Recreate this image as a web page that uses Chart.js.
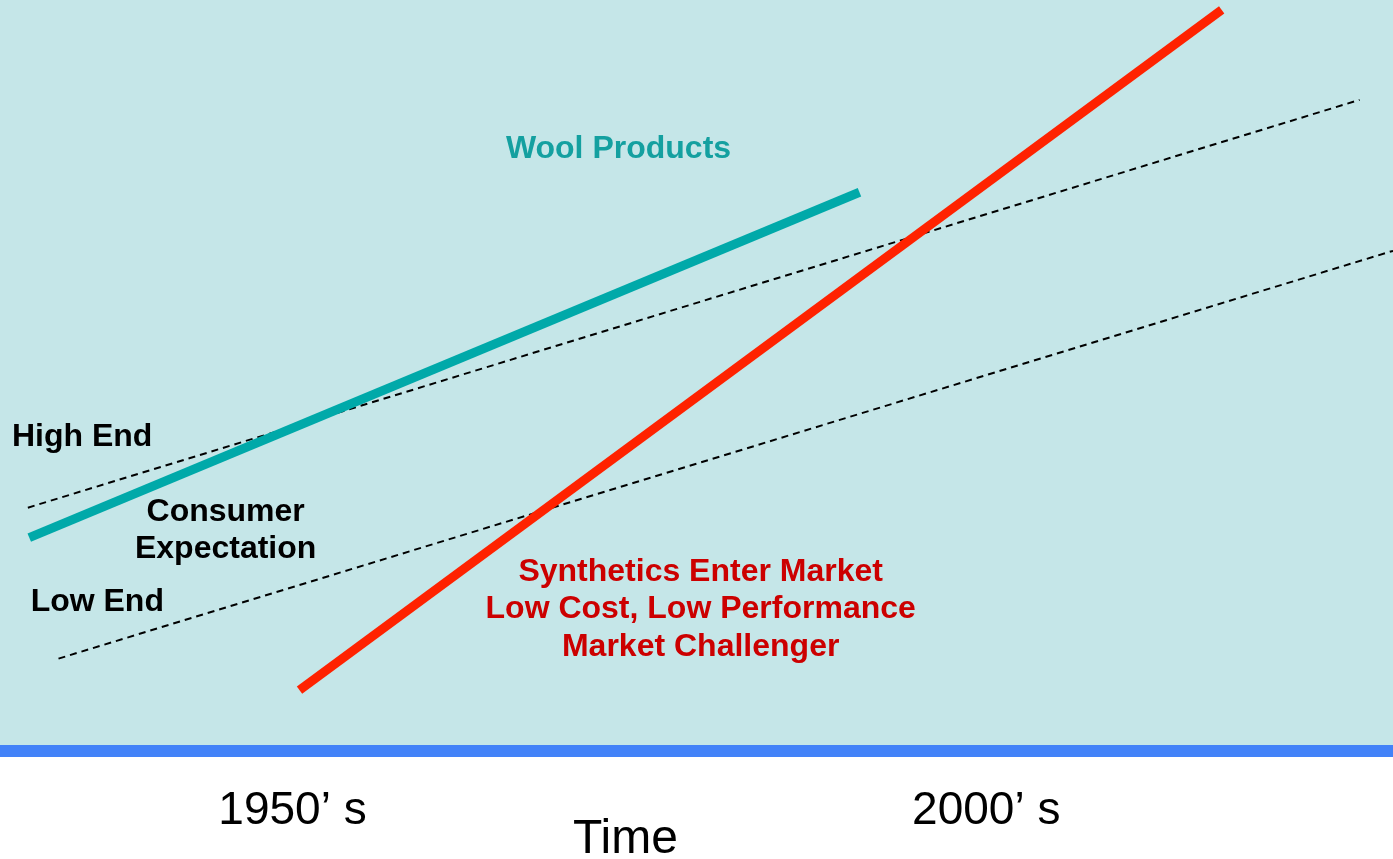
<!DOCTYPE html>
<html>
<head>
<meta charset="utf-8">
<script src="https://cdn.jsdelivr.net/npm/chart.js@4"></script>
<style>
  body { margin: 0; background: #ffffff; }
  canvas { display: block; }
</style>
</head>
<body>
<canvas id="chart" width="1393" height="859"></canvas>
<script>
// values (x: 0-100 across, y: 0-100 up)
const woolX = [2.1, 61.7];
const woolY = [28.4, 74.4];
const synthX = [21.5, 87.7];
const synthY = [8.1, 98.7];
const highEndX = [2.0, 97.6];
const highEndY = [32.4, 86.7];
const lowEndX = [4.2, 100];
const lowEndY = [12.3, 66.6];

const tickValues = [21.0, 70.8];
const tickLabels = ['1950\u2019 s', '2000\u2019 s'];
const axisTitle = 'Time';
const axisTitleX = 44.9;

// text notes placed in the same units
const notes = [
    { text: 'Wool Products', x: 44.4, y: 80.1, align: 'center', color: '#14A0A0' },
    { text: 'High End', x: 0.86, y: 41.8, align: 'left', color: '#000000' },
    { text: 'Consumer', x: 16.2, y: 31.8, align: 'center', color: '#000000' },
    { text: 'Expectation', x: 16.2, y: 26.9, align: 'center', color: '#000000' },
    { text: 'Low End', x: 2.2, y: 19.8, align: 'left', color: '#000000' },
    { text: 'Synthetics Enter Market', x: 50.3, y: 23.8, align: 'center', color: '#CC0000' },
    { text: 'Low Cost, Low Performance', x: 50.3, y: 18.9, align: 'center', color: '#CC0000' },
    { text: 'Market Challenger', x: 50.3, y: 13.8, align: 'center', color: '#CC0000' }
];

const toPoints = (xs, ys) => xs.map((x, i) => ({ x: x, y: ys[i] }));

const areaBackground = {
    id: 'areaBackground',
    beforeDraw(chart) {
        const { ctx, chartArea } = chart;
        ctx.save();
        ctx.fillStyle = '#C5E6E8';
        ctx.fillRect(0, 0, chart.width, chartArea.bottom);
        ctx.restore();
    }
};

const noteLabels = {
    id: 'noteLabels',
    afterDatasetsDraw(chart) {
        const { ctx, scales } = chart;
        ctx.save();
        ctx.font = 'bold 32px "Liberation Sans", Arial, sans-serif';
        ctx.textBaseline = 'middle';
        notes.forEach(n => {
            ctx.fillStyle = n.color;
            ctx.textAlign = n.align;
            ctx.fillText(n.text, scales.x.getPixelForValue(n.x), scales.y.getPixelForValue(n.y));
        });
        // axis title sits left of centre in the original, so draw it here
        ctx.font = '48px "Liberation Sans", Arial, sans-serif';
        ctx.fillStyle = '#000000';
        ctx.textAlign = 'center';
        ctx.fillText(axisTitle, scales.x.getPixelForValue(axisTitleX), chart.height - 19);
        ctx.restore();
    }
};

const ctx = document.getElementById('chart').getContext('2d');
new Chart(ctx, {
    type: 'line',
    data: {
        datasets: [
            {
                label: 'Wool Products',
                data: toPoints(woolX, woolY),
                borderColor: '#00A9A9',
                borderWidth: 9
            },
            {
                label: 'Synthetics',
                data: toPoints(synthX, synthY),
                borderColor: '#FF2200',
                borderWidth: 9
            },
            {
                label: 'High End',
                data: toPoints(highEndX, highEndY),
                borderColor: '#000000',
                borderWidth: 2,
                borderDash: [7, 5]
            },
            {
                label: 'Low End',
                data: toPoints(lowEndX, lowEndY),
                borderColor: '#000000',
                borderWidth: 2,
                borderDash: [7, 5]
            }
        ]
    },
    options: {
        responsive: false,
        animation: false,
        layout: { padding: 0 },
        elements: { point: { radius: 0 }, line: { tension: 0 } },
        plugins: {
            legend: { display: false },
            tooltip: { enabled: false }
        },
        scales: {
            x: {
                type: 'linear',
                min: 0,
                max: 100,
                grid: { display: false, drawTicks: false },
                border: { display: true, color: '#4282F8', width: 12 },
                afterBuildTicks: (scale) => {
                    scale.ticks = tickValues.map(v => ({ value: v }));
                },
                afterFit: (scale) => {
                    scale.height = 108;
                },
                ticks: {
                    autoSkip: false,
                    maxRotation: 0,
                    padding: 37,
                    color: '#000000',
                    font: { family: '"Liberation Sans", Arial, sans-serif', size: 46, lineHeight: 1 },
                    callback: (value, index) => tickLabels[index]
                }
            },
            y: {
                type: 'linear',
                display: false,
                min: 0,
                max: 100
            }
        }
    },
    plugins: [areaBackground, noteLabels]
});
</script>
</body>
</html>
